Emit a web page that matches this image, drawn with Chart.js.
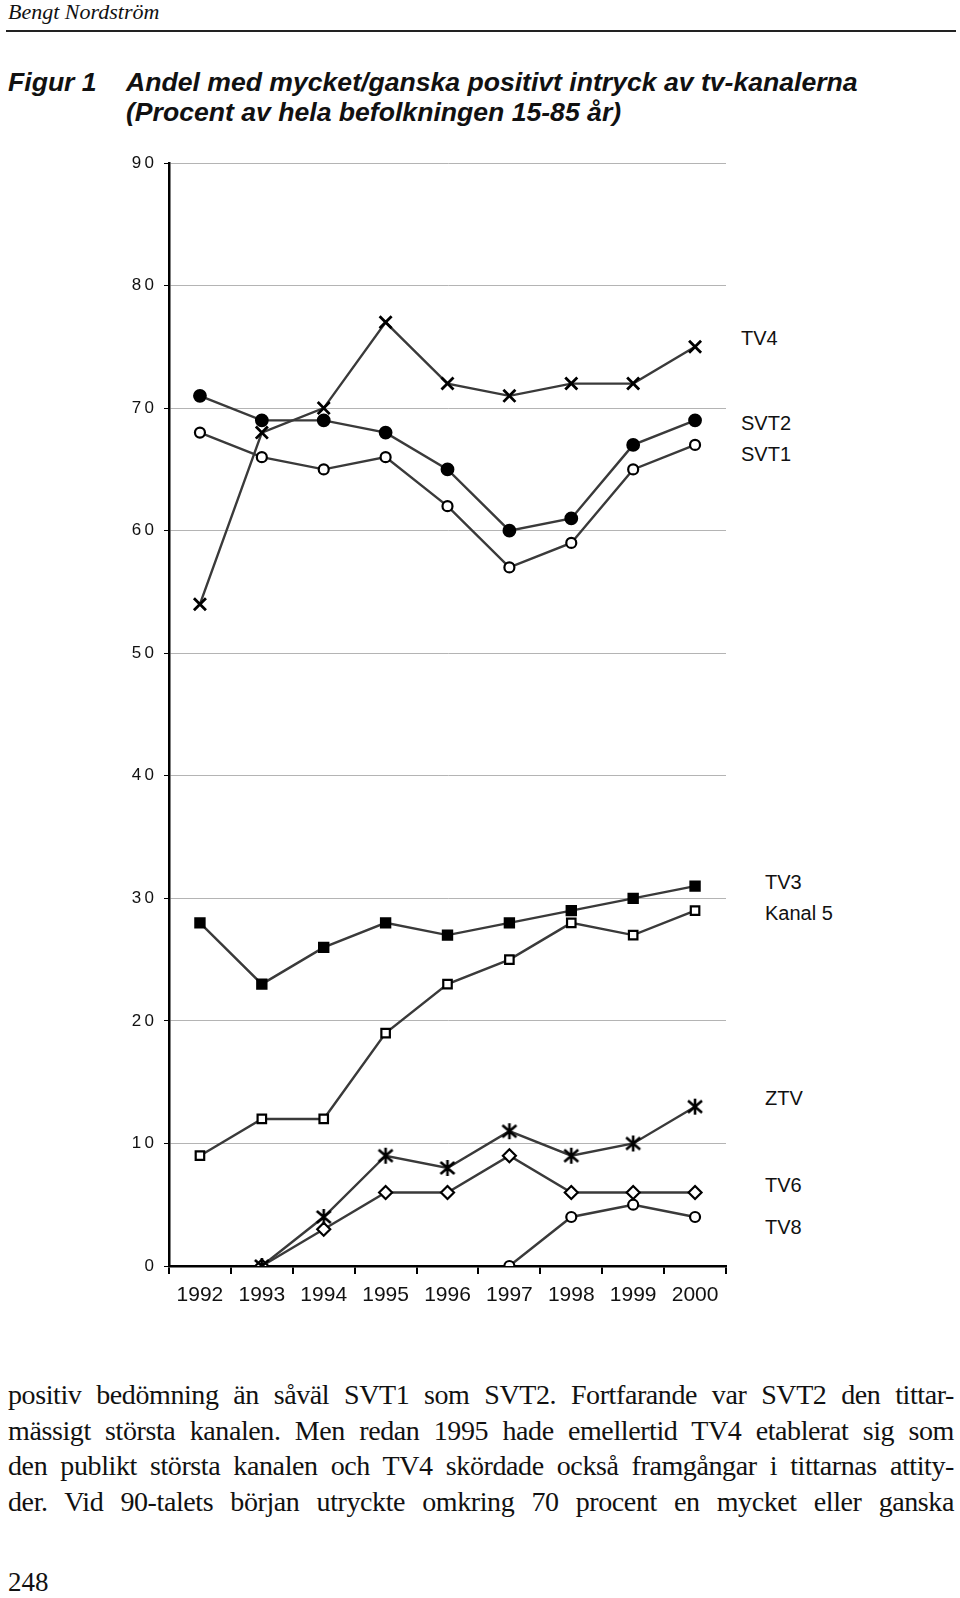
<!DOCTYPE html>
<html>
<head>
<meta charset="utf-8">
<script src="https://cdn.jsdelivr.net/npm/chart.js@4.4.1/dist/chart.umd.min.js"></script>
<style>
  body { margin: 0; background: #fff; width: 960px; height: 1598px; position: relative; overflow: hidden; }
  .abs { position: absolute; white-space: nowrap; color: #111; }
  #header { left: 8px; top: 0px; font-family: "Liberation Serif", serif; font-style: italic; font-size: 22px; line-height: 24px; }
  #rule { position: absolute; left: 6px; top: 30px; width: 950px; height: 2px; background: #222; }
  .titel { font-family: "Liberation Sans", Arial, sans-serif; font-weight: bold; font-style: italic; font-size: 26.6px; line-height: 30px; }
  .etikett { font-family: "Liberation Sans", Arial, sans-serif; font-size: 20px; line-height: 24px; }
  .brod { position: absolute; left: 8px; width: 946px; font-family: "Liberation Serif", serif; font-size: 28px; line-height: 36px; letter-spacing: -0.4px; text-align: justify; text-align-last: justify; color: #111; }
  #wrap { position: absolute; left: 0; top: 140px; width: 740px; height: 1180px; }
</style>
</head>
<body>

<div id="header" class="abs">Bengt Nordström</div>
<div id="rule"></div>

<div class="abs titel" style="left:8px; top:67px;">Figur 1</div>
<div class="abs titel" style="left:126px; top:67px;">Andel med mycket/ganska positivt intryck av tv-kanalerna</div>
<div class="abs titel" style="left:126px; top:97px;">(Procent av hela befolkningen 15-85 år)</div>

<div id="wrap"><canvas id="chart1"></canvas></div>

<!-- kanalnamn till höger om diagrammet -->
<div class="abs etikett" style="left:741px; top:326px;">TV4</div>
<div class="abs etikett" style="left:741px; top:411px;">SVT2</div>
<div class="abs etikett" style="left:741px; top:442px;">SVT1</div>
<div class="abs etikett" style="left:765px; top:870px;">TV3</div>
<div class="abs etikett" style="left:765px; top:901px;">Kanal 5</div>
<div class="abs etikett" style="left:765px; top:1086px;">ZTV</div>
<div class="abs etikett" style="left:765px; top:1173px;">TV6</div>
<div class="abs etikett" style="left:765px; top:1215px;">TV8</div>

<div class="brod" style="top:1377px;">positiv bedömning än såväl SVT1 som SVT2. Fortfarande var SVT2 den tittar-</div>
<div class="brod" style="top:1413px;">mässigt största kanalen. Men redan 1995 hade emellertid TV4 etablerat sig som</div>
<div class="brod" style="top:1448px;">den publikt största kanalen och TV4 skördade också framgångar i tittarnas attity-</div>
<div class="brod" style="top:1484px;">der. Vid 90-talets början utryckte omkring 70 procent en mycket eller ganska</div>
<div class="abs" style="left:8px; top:1564px; font-family:'Liberation Serif', serif; font-size:27px; line-height:36px;">248</div>

<script>
  var ar = ['1992', '1993', '1994', '1995', '1996', '1997', '1998', '1999', '2000']

  var tv4 = [54, 68, 70, 77, 72, 71, 72, 72, 75]
  var svt2 = [71, 69, 69, 68, 65, 60, 61, 67, 69]
  var svt1 = [68, 66, 65, 66, 62, 57, 59, 65, 67]
  var tv3 = [28, 23, 26, 28, 27, 28, 29, 30, 31]
  var kanal5 = [9, 12, 12, 19, 23, 25, 28, 27, 29]
  var ztv = [null, 0, 4, 9, 8, 11, 9, 10, 13]
  var tv6 = [null, 0, 3, 6, 6, 9, 6, 6, 6]
  var tv8 = [null, null, null, null, null, 0, 4, 5, 4]

  var linje = '#3a3a3a'

  // asterisk-markör (X med lodrätt streck) för ZTV
  var stjarna = document.createElement('canvas')
  stjarna.width = 18
  stjarna.height = 18
  var sc = stjarna.getContext('2d')
  sc.strokeStyle = '#000'
  sc.lineWidth = 2.6
  sc.beginPath()
  sc.moveTo(9, 1); sc.lineTo(9, 17)
  sc.moveTo(2, 3); sc.lineTo(16, 15)
  sc.moveTo(16, 3); sc.lineTo(2, 15)
  sc.stroke()

  function serie(namn, varden, stil, radie, fyllning, kant) {
    return {
      label: namn,
      data: varden,
      borderColor: linje,
      borderWidth: 2.4,
      pointStyle: stil,
      pointRadius: radie,
      pointBorderColor: '#000',
      pointBorderWidth: kant || 2.2,
      pointBackgroundColor: fyllning,
      spanGaps: false,
      tension: 0
    }
  }

  const data = {
    labels: ar,
    datasets: [
      serie('TV4', tv4, 'crossRot', 8.5, '#000', 2.8),
      serie('SVT2', svt2, 'circle', 5.8, '#000'),
      serie('SVT1', svt1, 'circle', 5, '#fff'),
      serie('TV3', tv3, 'rect', 6.5, '#000'),
      serie('Kanal 5', kanal5, 'rect', 6, '#fff'),
      serie('ZTV', ztv, stjarna, 8, '#000'),
      serie('TV6', tv6, 'rectRot', 6.5, '#fff'),
      serie('TV8', tv8, 'circle', 5, '#fff')
    ]
  }

  const config = {
    type: 'line',
    data,
    options: {
      responsive: true,
      maintainAspectRatio: false,
      animation: false,
      devicePixelRatio: 1,
      layout: { padding: { left: 0, right: 14, top: 23, bottom: 0 } },
      plugins: {
        legend: { display: false },
        tooltip: { enabled: false }
      },
      scales: {
        x: {
          offset: true,
          afterFit: function (s) { s.height = 54 },
          grid: { display: true, drawOnChartArea: false, offset: true, tickLength: 8, tickColor: '#000', lineWidth: 2 },
          border: { color: '#000', width: 2.5 },
          ticks: { color: '#111', padding: 9, font: { family: 'Liberation Sans', size: 21 } }
        },
        y: {
          min: 0,
          max: 90,
          afterFit: function (s) { s.width = 169 },
          grid: { color: '#b4b4b4', lineWidth: 1, tickLength: 5, tickColor: '#000' },
          border: { color: '#000', width: 2.5 },
          ticks: {
            stepSize: 10,
            color: '#111',
            padding: 10,
            font: { family: 'Liberation Sans', size: 17 },
            callback: function (v) { return String(v).split('').join('\u2009') }
          }
        }
      }
    }
  }

  const myChart = new Chart(document.getElementById('chart1'), config)
</script>
</body>
</html>
